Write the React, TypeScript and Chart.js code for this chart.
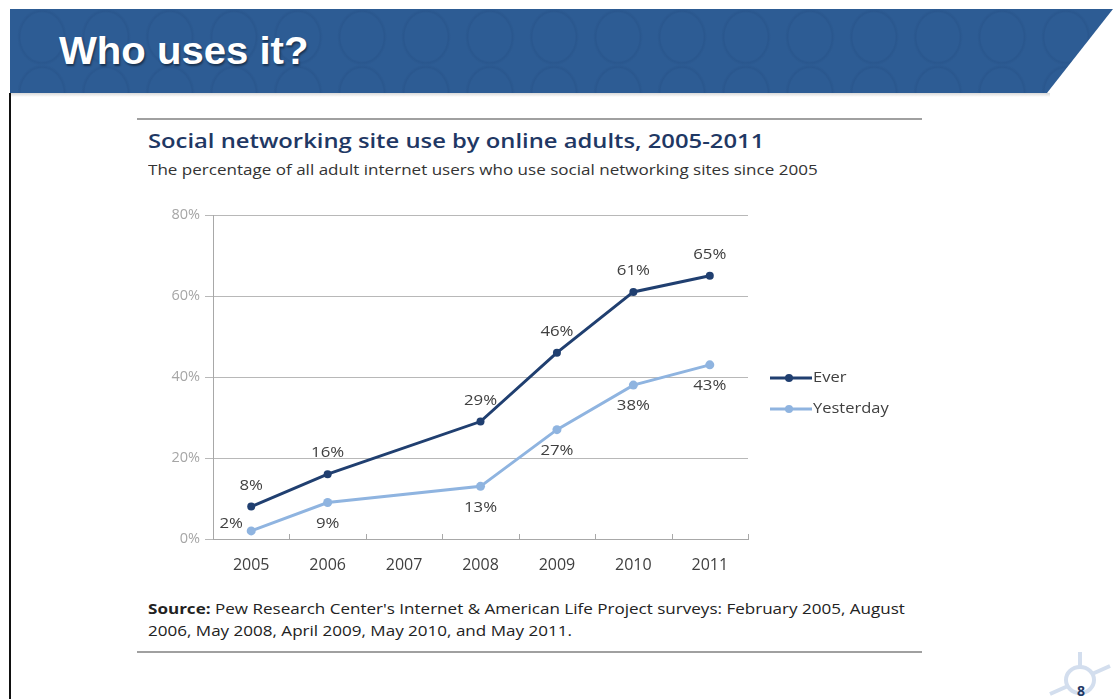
import React, { useEffect, useRef } from "react";
import { Chart, registerables } from "chart.js";

Chart.register(...registerables);

const categories = ["2005", "2006", "2007", "2008", "2009", "2010", "2011"];
const everValues: (number | null)[] = [8, 16, null, 29, 46, 61, 65];
const yesterdayValues: (number | null)[] = [2, 9, null, 13, 27, 38, 43];
const seriesNames = ["Ever", "Yesterday"];
const yTickValues = [0, 20, 40, 60, 80];

const EVER_COLOR = "#203f70";
const YEST_COLOR = "#8fb4e0";
const LABEL_COLOR = "#404040";
const FONT = "'Open Sans', 'Noto Sans', sans-serif";

// placement of the value labels for each series, per category
const everLabelPlacement = ["above", "above", "above", "above", "above", "above", "above"];
const yesterdayLabelPlacement = ["left", "below", "below", "below", "below", "below", "below"];

const valueLabelsPlugin = {
  id: "valueLabels",
  afterDatasetsDraw(chart: any) {
    const ctx = chart.ctx;
    ctx.save();
    ctx.font = `15px ${FONT}`;
    ctx.fillStyle = LABEL_COLOR;
    ctx.textAlign = "center";
    ctx.textBaseline = "middle";
    chart.data.datasets.forEach((ds: any, di: number) => {
      const meta = chart.getDatasetMeta(di);
      meta.data.forEach((pt: any, i: number) => {
        const v = ds.data[i];
        if (v === null || v === undefined) return;
        const place = ds.labelPlacement[i];
        let x = pt.x;
        let y = pt.y;
        if (place === "above") y -= 21;
        else if (place === "below") y += 21;
        else if (place === "left") {
          x -= 20;
          y -= 7;
        }
        ctx.save();
        ctx.translate(x, y);
        ctx.scale(1.12, 1);
        ctx.fillText(`${v}%`, 0, 0);
        ctx.restore();
      });
    });
    ctx.restore();
  },
};

const axisTicksPlugin = {
  id: "axisTicks",
  afterDraw(chart: any) {
    const { ctx, chartArea } = chart;
    const n = categories.length;
    const step = (chartArea.right - chartArea.left) / n;
    ctx.save();
    ctx.strokeStyle = "#a8a8a8";
    ctx.lineWidth = 1;
    for (let i = 1; i <= n; i++) {
      const x = Math.round(chartArea.left + i * step) + 0.5;
      ctx.beginPath();
      ctx.moveTo(x, chartArea.bottom - 5);
      ctx.lineTo(x, chartArea.bottom);
      ctx.stroke();
    }
    ctx.restore();
  },
};

const legendPlugin = {
  id: "sideLegend",
  afterDraw(chart: any) {
    const { ctx, chartArea } = chart;
    ctx.save();
    ctx.font = `15px ${FONT}`;
    ctx.textBaseline = "middle";
    ctx.textAlign = "left";
    chart.data.datasets.forEach((ds: any, i: number) => {
      const y = 178 + i * 31;
      const x0 = chartArea.right + 22;
      ctx.strokeStyle = ds.borderColor;
      ctx.lineWidth = 3;
      ctx.beginPath();
      ctx.moveTo(x0, y);
      ctx.lineTo(x0 + 42, y);
      ctx.stroke();
      ctx.fillStyle = ds.borderColor;
      ctx.beginPath();
      ctx.arc(x0 + 19, y, 4, 0, Math.PI * 2);
      ctx.fill();
      ctx.fillStyle = LABEL_COLOR;
      ctx.save();
      ctx.translate(x0 + 43, y);
      ctx.scale(1.1, 1);
      ctx.fillText(ds.label, 0, 0);
      ctx.restore();
    });
    ctx.restore();
  },
};

function LineChart() {
  const ref = useRef<HTMLCanvasElement | null>(null);
  useEffect(() => {
    if (!ref.current) return;
    const chart = new Chart(ref.current, {
      type: "line",
      data: {
        labels: categories,
        datasets: [
          {
            label: seriesNames[0],
            data: everValues,
            borderColor: EVER_COLOR,
            backgroundColor: EVER_COLOR,
            borderWidth: 3,
            pointRadius: 4,
            pointBackgroundColor: EVER_COLOR,
            pointBorderWidth: 0,
            spanGaps: true,
            tension: 0,
            labelPlacement: everLabelPlacement,
          } as any,
          {
            label: seriesNames[1],
            data: yesterdayValues,
            borderColor: YEST_COLOR,
            backgroundColor: YEST_COLOR,
            borderWidth: 3,
            pointRadius: 4.5,
            pointBackgroundColor: YEST_COLOR,
            pointBorderWidth: 0,
            spanGaps: true,
            tension: 0,
            labelPlacement: yesterdayLabelPlacement,
          } as any,
        ],
      },
      options: {
        responsive: false,
        animation: false,
        layout: { padding: { top: 15, right: 162, left: 0, bottom: 0 } },
        plugins: {
          legend: { display: false },
          tooltip: { enabled: false },
          title: { display: false },
        },
        scales: {
          x: {
            type: "category",
            offset: true,
            grid: { display: false, drawTicks: false },
            border: { display: true, color: "#a8a8a8", width: 1 },
            ticks: {
              color: LABEL_COLOR,
              font: { family: FONT, size: 16 },
              padding: 17,
              maxRotation: 0,
            },
            afterFit: (scale: any) => {
              scale.height = 41;
            },
          },
          y: {
            min: 0,
            max: 80,
            afterBuildTicks: (scale: any) => {
              scale.ticks = yTickValues.map((v) => ({ value: v }));
            },
            grid: { color: "#b8b8b8", lineWidth: 1, tickLength: 8 },
            border: { display: true, color: "#a8a8a8", width: 1 },
            ticks: {
              color: "#a6a6a6",
              font: { family: FONT, size: 14.5 },
              padding: 5,
              callback: (v: any) => `${v}%`,
            },
            afterFit: (scale: any) => {
              scale.width = 63;
            },
          },
        },
      },
      plugins: [valueLabelsPlugin, axisTicksPlugin, legendPlugin],
    });
    return () => chart.destroy();
  }, []);
  return (
    <canvas
      ref={ref}
      width={760}
      height={380}
      style={{ position: "absolute", left: 150, top: 200, width: 760, height: 380 }}
    />
  );
}

const stretch = (sx: number): React.CSSProperties => ({
  transform: `scaleX(${sx})`,
  transformOrigin: "0 50%",
});

export default function App() {
  return (
    <div
      style={{
        position: "absolute",
        left: 0,
        top: 0,
        width: 1116,
        height: 699,
        overflow: "hidden",
        background: "#ffffff",
        fontFamily: FONT,
      }}
    >
      {/* header band */}
      <div
        style={{
          position: "absolute",
          left: 10,
          top: 9,
          width: 1103,
          height: 84,
          clipPath: "polygon(0 0, 100% 0, calc(100% - 66px) 100%, 0 100%)",
          backgroundColor: "#2d5c94",
          backgroundImage:
            "radial-gradient(ellipse 26px 30px at 50% 50%, transparent 80%, rgba(25,60,110,0.16) 86%, transparent 96%)",
          backgroundSize: "64px 56px",
        }}
      />
      <div
        style={{
          position: "absolute",
          left: 10,
          top: 93,
          width: 1040,
          height: 4,
          background: "linear-gradient(#d8d8d8, #ffffff)",
        }}
      />
      <div
        style={{
          position: "absolute",
          left: 59,
          top: 26,
          color: "#ffffff",
          fontFamily: "'Liberation Sans', Arial, sans-serif",
          fontWeight: 700,
          fontSize: 38,
          lineHeight: "50px",
          textShadow: "1px 2px 2px rgba(0,0,0,0.45)",
          whiteSpace: "nowrap",
          ...stretch(1.055),
        }}
      >
        Who uses it?
      </div>
      {/* left border */}
      <div style={{ position: "absolute", left: 9, top: 93, width: 2, height: 606, background: "#111" }} />

      {/* rules */}
      <div style={{ position: "absolute", left: 137, top: 118, width: 785, height: 2, background: "#a0a0a0" }} />
      <div style={{ position: "absolute", left: 137, top: 651, width: 785, height: 2, background: "#a0a0a0" }} />

      {/* chart title */}
      <div
        style={{
          position: "absolute",
          left: 148,
          top: 126,
          color: "#1f3864",
          fontWeight: 600,
          fontSize: 20,
          lineHeight: "30px",
          whiteSpace: "nowrap",
          ...stretch(1.19),
        }}
      >
        Social networking site use by online adults, 2005-2011
      </div>
      <div
        style={{
          position: "absolute",
          left: 148,
          top: 159,
          color: "#333333",
          fontSize: 14.5,
          lineHeight: "22px",
          whiteSpace: "nowrap",
          ...stretch(1.175),
        }}
      >
        The percentage of all adult internet users who use social networking sites since 2005
      </div>

      <LineChart />

      {/* source */}
      <div
        style={{
          position: "absolute",
          left: 148,
          top: 598,
          color: "#222222",
          fontSize: 14.5,
          lineHeight: "22px",
          whiteSpace: "nowrap",
          ...stretch(1.175),
        }}
      >
        <b>Source:</b> Pew Research Center's Internet &amp; American Life Project surveys: February 2005, August
        <br />
        2006, May 2008, April 2009, May 2010, and May 2011.
      </div>

      {/* page logo & number */}
      <svg
        style={{ position: "absolute", left: 1030, top: 648, width: 86, height: 51 }}
        viewBox="0 0 86 51"
      >
        <g stroke="#d3deee" strokeWidth="4" fill="none">
          <ellipse cx="50" cy="32" rx="14" ry="13" />
          <line x1="20" y1="46" x2="38" y2="38" />
          <line x1="62" y1="26" x2="80" y2="18" />
          <line x1="50" y1="4" x2="50" y2="18" />
        </g>
        <text x="51" y="48" fontSize="14" fontWeight="700" fill="#1f3864" textAnchor="middle" fontFamily="'Open Sans', sans-serif">
          8
        </text>
      </svg>
    </div>
  );
}
